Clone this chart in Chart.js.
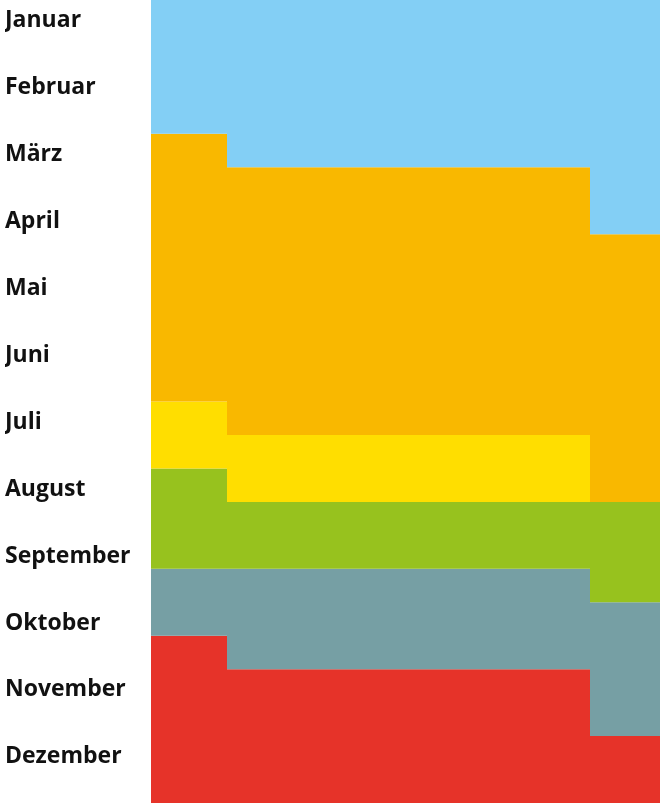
<!DOCTYPE html>
<html>
<head>
<meta charset="utf-8">
<script src="https://cdn.jsdelivr.net/npm/chart.js@4.4.1/dist/chart.umd.min.js"></script>
<style>
  html, body { margin: 0; padding: 0; background: #ffffff; }
  #wrap { width: 663px; height: 803px; position: relative; }
</style>
</head>
<body>
<div id="wrap"><canvas id="c"></canvas></div>
<script>
// Month labels (rows, top to bottom)
const months = ["Januar","Februar","März","April","Mai","Juni","Juli","August","September","Oktober","November","Dezember"];

// Column edges (relative widths of the three columns)
const columnEdges = [0, 76, 439, 509];

// Phase colours (top to bottom)
const phaseColors = ["#83CFF5", "#F9B800", "#FFDE00", "#97C21E", "#769FA4", "#E63329"];

// Phase end (in months from 1 January) for each column: [col1, col2, col3]
const phaseStart = [0, 0, 0];
const blueEnd    = [2, 2.5, 3.5];
const orangeEnd  = [6, 6.5, 7.5];
const yellowEnd  = [7, 7.5, 7.5];
const greenEnd   = [8.5, 8.5, 9];
const tealEnd    = [9.5, 10, 11];
const redEnd     = [12, 12, 12];

const boundaries = [phaseStart, blueEnd, orangeEnd, yellowEnd, greenEnd, tealEnd, redEnd];

function stepPoints(vals) {
  const pts = vals.map((v, i) => ({ x: columnEdges[i], y: v }));
  pts.push({ x: columnEdges[columnEdges.length - 1], y: vals[vals.length - 1] });
  return pts;
}

const datasets = boundaries.map((b, i) => ({
  data: stepPoints(b),
  stepped: 'before',
  borderWidth: 0,
  borderColor: 'rgba(0,0,0,0)',
  pointRadius: 0,
  pointHoverRadius: 0,
  backgroundColor: i === 0 ? 'rgba(0,0,0,0)' : phaseColors[i - 1],
  fill: i === 0 ? false : '-1'
}));

new Chart(document.getElementById('c'), {
  type: 'line',
  data: { datasets },
  options: {
    responsive: true,
    maintainAspectRatio: false,
    animation: false,
    events: [],
    layout: { padding: { left: 5, right: 3, top: 0, bottom: 0 } },
    plugins: { legend: { display: false }, tooltip: { enabled: false } },
    scales: {
      x: {
        type: 'linear',
        min: columnEdges[0],
        max: columnEdges[columnEdges.length - 1],
        display: false
      },
      y: {
        type: 'linear',
        reverse: true,
        min: 0,
        max: 12,
        border: { display: false },
        grid: { display: false, drawTicks: false },
        afterBuildTicks: (axis) => {
          axis.ticks = months.map((m, i) => ({ value: i + 0.31 }));
        },
        afterFit: (axis) => {
          axis.width = 146;
          axis.paddingTop = 0;
          axis.paddingBottom = 0;
        },
        ticks: {
          crossAlign: 'far',
          padding: 0,
          autoSkip: false,
          color: '#111111',
          font: { family: 'Open Sans', weight: 'bold', size: 23 },
          callback: (v, idx) => months[idx]
        }
      }
    }
  }
});
</script>
</body>
</html>
